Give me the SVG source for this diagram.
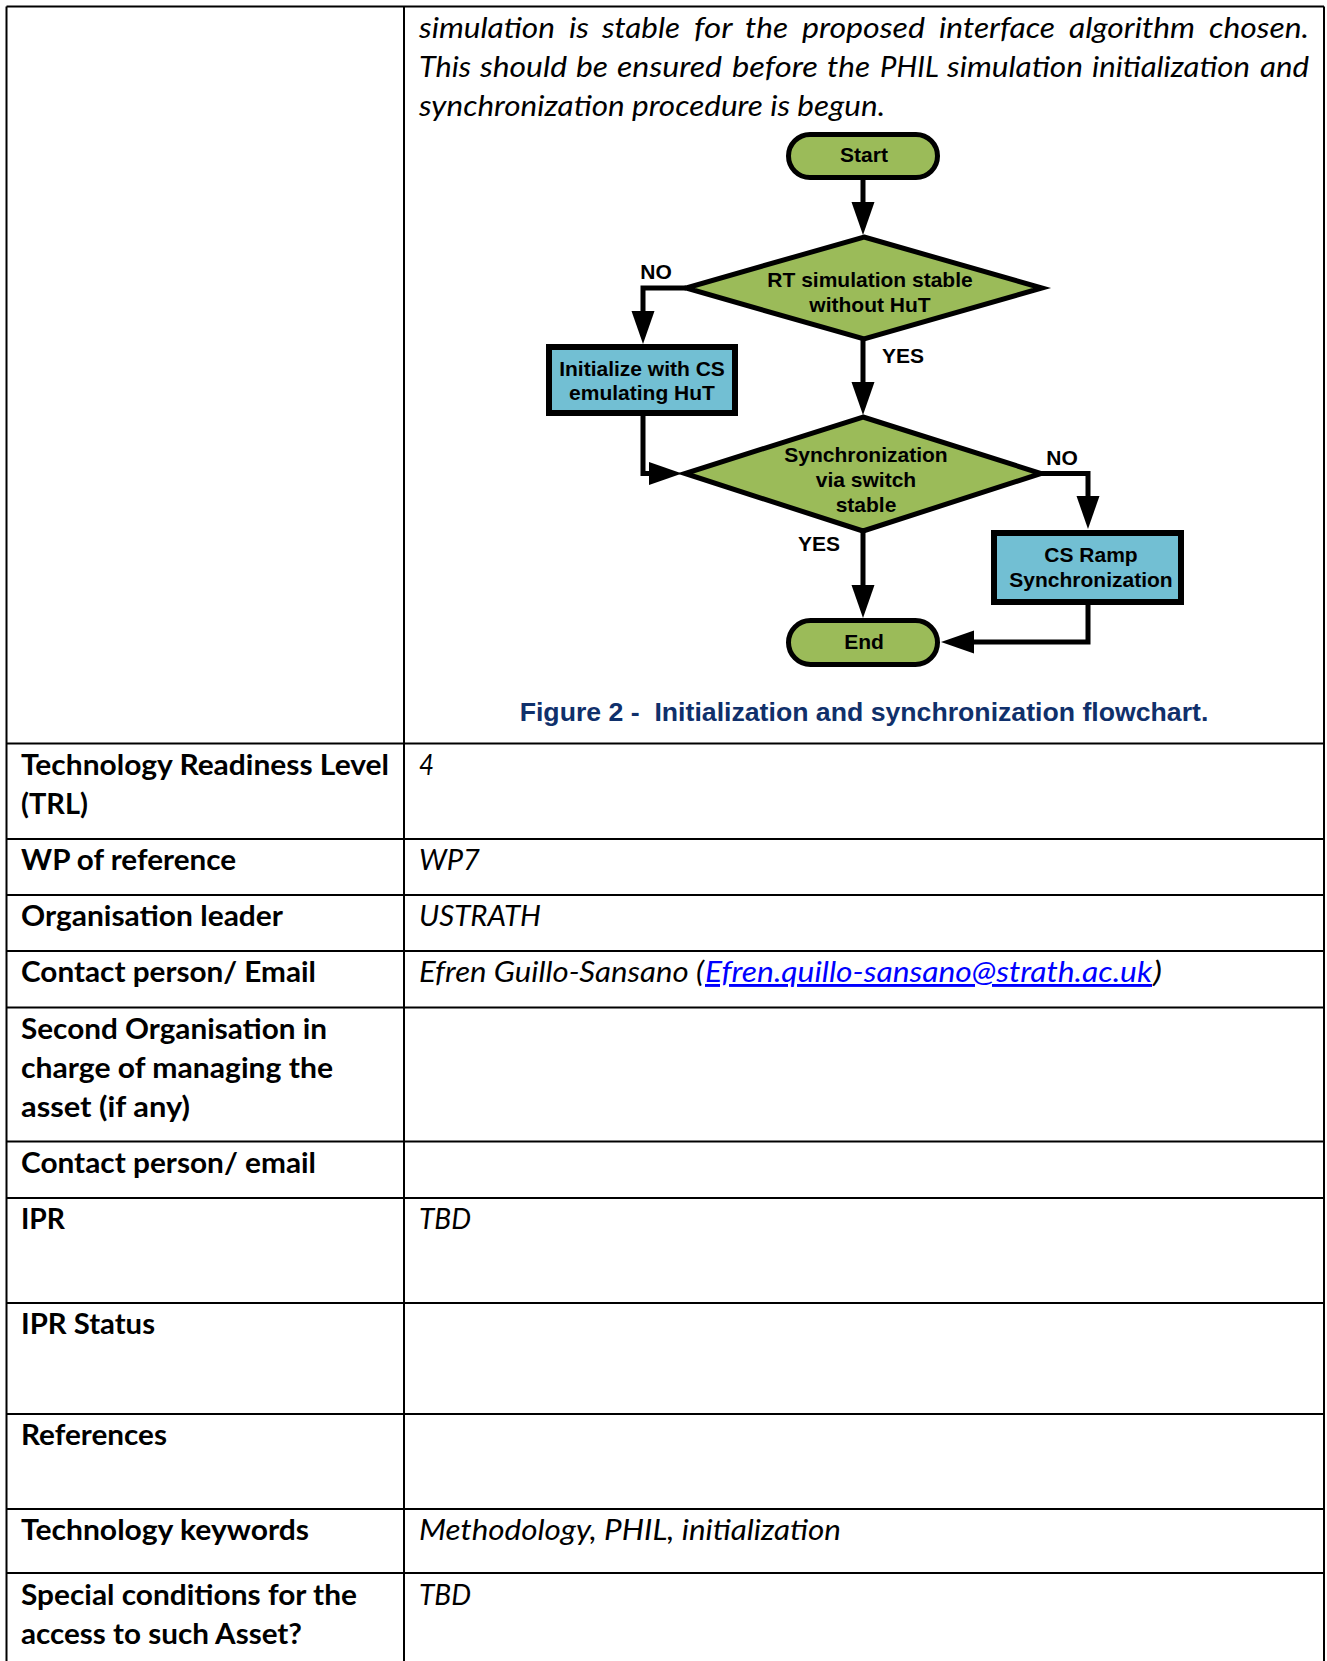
<svg xmlns="http://www.w3.org/2000/svg" width="1327" height="1661" viewBox="0 0 1327 1661">
  <style>
    .grid { stroke: #000; stroke-width: 2; fill: none; }
    .lbl { font-family: Lato, "Liberation Sans", sans-serif; font-weight: bold; font-size: 29px; fill: #000; }
    .val { font-family: Lato, "Liberation Sans", sans-serif; font-style: italic; font-size: 29px; fill: #000; }
    .link { fill: #0000FF; text-decoration: underline; }
    .fc { font-family: "Liberation Sans", Arial, sans-serif; font-weight: bold; font-size: 21px; fill: #000; text-anchor: middle; }
    .term, .dec { fill: #9BBB59; stroke: #000; stroke-width: 5; stroke-linejoin: miter; }
    .proc { fill: #72BFD3; stroke: #000; stroke-width: 6; }
    .conn { fill: none; stroke: #000; stroke-width: 5; stroke-linejoin: miter; marker-end: url(#arrow); }
    .caption { font-family: "Liberation Sans", Arial, sans-serif; font-weight: bold; font-size: 26.67px; fill: #10306B; text-anchor: middle; white-space: pre; }
  </style>
  <defs>
    <marker id="arrow" markerUnits="userSpaceOnUse" viewBox="0 0 34 24" markerWidth="34" markerHeight="24" refX="1" refY="12" orient="auto">
      <path d="M0,0.5 L33,12 L0,23.5 z" fill="#000"/>
    </marker>
  </defs>

  <rect x="0" y="0" width="1327" height="1661" fill="#fff"/>

  <!-- table grid -->
  <g id="table-grid" class="grid">
    <path d="M6.5,6.5 H1324 M6.5,6.5 V1661 M1324,6.5 V1661 M404,6.5 V1661"/>
    <path d="M6.5,743.5 H1324 M6.5,839 H1324 M6.5,895 H1324 M6.5,951 H1324 M6.5,1007.5 H1324 M6.5,1141.5 H1324 M6.5,1198 H1324 M6.5,1303 H1324 M6.5,1414 H1324 M6.5,1509 H1324 M6.5,1573 H1324"/>
  </g>

  <!-- description paragraph (justified lines set word by word) -->
  <g id="description">
    <text class="val" y="37.5" lengthAdjust="spacingAndGlyphs"><tspan x="419" textLength="136" lengthAdjust="spacingAndGlyphs">simulation</tspan> <tspan x="569" textLength="20" lengthAdjust="spacingAndGlyphs">is</tspan> <tspan x="602" textLength="78" lengthAdjust="spacingAndGlyphs">stable</tspan> <tspan x="694" textLength="38" lengthAdjust="spacingAndGlyphs">for</tspan> <tspan x="745" textLength="43" lengthAdjust="spacingAndGlyphs">the</tspan> <tspan x="802" textLength="123" lengthAdjust="spacingAndGlyphs">proposed</tspan> <tspan x="939" textLength="116" lengthAdjust="spacingAndGlyphs">interface</tspan> <tspan x="1069" textLength="126" lengthAdjust="spacingAndGlyphs">algorithm</tspan> <tspan x="1209" textLength="100" lengthAdjust="spacingAndGlyphs">chosen.</tspan></text>
    <text class="val" y="76.5"><tspan x="419" textLength="52" lengthAdjust="spacingAndGlyphs">This</tspan> <tspan x="480" textLength="87" lengthAdjust="spacingAndGlyphs">should</tspan> <tspan x="576" textLength="32" lengthAdjust="spacingAndGlyphs">be</tspan> <tspan x="617" textLength="105" lengthAdjust="spacingAndGlyphs">ensured</tspan> <tspan x="732" textLength="86" lengthAdjust="spacingAndGlyphs">before</tspan> <tspan x="827" textLength="43" lengthAdjust="spacingAndGlyphs">the</tspan> <tspan x="880" textLength="58" lengthAdjust="spacingAndGlyphs">PHIL</tspan> <tspan x="947" textLength="136" lengthAdjust="spacingAndGlyphs">simulation</tspan> <tspan x="1092" textLength="158" lengthAdjust="spacingAndGlyphs">initialization</tspan> <tspan x="1260" textLength="49" lengthAdjust="spacingAndGlyphs">and</tspan></text>
    <text class="val" x="419" y="115.5" textLength="466" lengthAdjust="spacingAndGlyphs">synchronization procedure is begun.</text>
  </g>

  <!-- flowchart connectors -->
  <g id="connectors">
    <path class="conn" d="M863,180 V203"/>
    <path class="conn" d="M686,288 H643 V312"/>
    <path class="conn" d="M863,339 V383"/>
    <path class="conn" d="M643,416 V473.5 H650"/>
    <path class="conn" d="M1041,473.5 H1088 V497"/>
    <path class="conn" d="M863,531 V586"/>
    <path class="conn" d="M1088,604 V642 H973"/>
  </g>

  <!-- flowchart nodes -->
  <g id="node-start">
    <rect class="term" x="788.5" y="134.5" width="149" height="43" rx="21.5"/>
    <text class="fc" x="864" y="162">Start</text>
  </g>
  <g id="node-rt-stable">
    <polygon class="dec" points="864,237 1042,288 864,339 686,288"/>
    <text class="fc" x="870" y="287">RT simulation stable</text>
    <text class="fc" x="870" y="312">without HuT</text>
  </g>
  <g id="node-init-cs">
    <rect class="proc" x="549" y="347" width="186" height="66"/>
    <text class="fc" x="642" y="376">Initialize with CS</text>
    <text class="fc" x="642" y="400">emulating HuT</text>
  </g>
  <g id="node-sync-switch">
    <polygon class="dec" points="863,417 1041,473.5 863,531 685,473.5"/>
    <text class="fc" x="866" y="462">Synchronization</text>
    <text class="fc" x="866" y="487">via switch</text>
    <text class="fc" x="866" y="512">stable</text>
  </g>
  <g id="node-cs-ramp">
    <rect class="proc" x="994" y="533" width="187" height="69"/>
    <text class="fc" x="1091" y="562">CS Ramp</text>
    <text class="fc" x="1091" y="587">Synchronization</text>
  </g>
  <g id="node-end">
    <rect class="term" x="788.5" y="620.5" width="149" height="44" rx="22"/>
    <text class="fc" x="864" y="649">End</text>
  </g>

  <!-- branch labels -->
  <g id="branch-labels">
    <text class="fc" x="656" y="279">NO</text>
    <text class="fc" x="903" y="363">YES</text>
    <text class="fc" x="1062" y="465">NO</text>
    <text class="fc" x="819" y="551">YES</text>
  </g>

  <text class="caption" x="864" y="721">Figure 2 -  Initialization and synchronization flowchart.</text>

  <!-- table rows -->
  <g id="row-trl">
    <text class="lbl" x="21" y="775" textLength="368" lengthAdjust="spacingAndGlyphs">Technology Readiness Level</text>
    <text class="lbl" x="21" y="814" textLength="67" lengthAdjust="spacingAndGlyphs">(TRL)</text>
    <text class="val" x="419" y="775" textLength="15" lengthAdjust="spacingAndGlyphs">4</text>
  </g>
  <g id="row-wp">
    <text class="lbl" x="21" y="870" textLength="215" lengthAdjust="spacingAndGlyphs">WP of reference</text>
    <text class="val" x="419" y="870" textLength="61" lengthAdjust="spacingAndGlyphs">WP7</text>
  </g>
  <g id="row-org">
    <text class="lbl" x="21" y="926" textLength="262" lengthAdjust="spacingAndGlyphs">Organisation leader</text>
    <text class="val" x="419" y="926" textLength="122" lengthAdjust="spacingAndGlyphs">USTRATH</text>
  </g>
  <g id="row-contact">
    <text class="lbl" x="21" y="982" textLength="295" lengthAdjust="spacingAndGlyphs">Contact person/ Email</text>
    <text class="val" y="982"><tspan x="419" textLength="285" lengthAdjust="spacingAndGlyphs">Efren Guillo-Sansano (</tspan><tspan class="link" x="705" textLength="447" lengthAdjust="spacingAndGlyphs">Efren.quillo-sansano@strath.ac.uk</tspan><tspan x="1153" textLength="9" lengthAdjust="spacingAndGlyphs">)</tspan></text>
  </g>
  <g id="row-second-org">
    <text class="lbl" x="21" y="1039" textLength="306" lengthAdjust="spacingAndGlyphs">Second Organisation in</text>
    <text class="lbl" x="21" y="1078" textLength="312" lengthAdjust="spacingAndGlyphs">charge of managing the</text>
    <text class="lbl" x="21" y="1117" textLength="169" lengthAdjust="spacingAndGlyphs">asset (if any)</text>
  </g>
  <g id="row-contact-2">
    <text class="lbl" x="21" y="1173" textLength="295" lengthAdjust="spacingAndGlyphs">Contact person/ email</text>
  </g>
  <g id="row-ipr">
    <text class="lbl" x="21" y="1229" textLength="44" lengthAdjust="spacingAndGlyphs">IPR</text>
    <text class="val" x="419" y="1229" textLength="52" lengthAdjust="spacingAndGlyphs">TBD</text>
  </g>
  <g id="row-ipr-status">
    <text class="lbl" x="21" y="1334" textLength="134" lengthAdjust="spacingAndGlyphs">IPR Status</text>
  </g>
  <g id="row-references">
    <text class="lbl" x="21" y="1445" textLength="146" lengthAdjust="spacingAndGlyphs">References</text>
  </g>
  <g id="row-keywords">
    <text class="lbl" x="21" y="1540" textLength="288" lengthAdjust="spacingAndGlyphs">Technology keywords</text>
    <text class="val" x="419" y="1540" textLength="422" lengthAdjust="spacingAndGlyphs">Methodology, PHIL, initialization</text>
  </g>
  <g id="row-special">
    <text class="lbl" x="21" y="1605" textLength="336" lengthAdjust="spacingAndGlyphs">Special conditions for the</text>
    <text class="lbl" x="21" y="1644" textLength="281" lengthAdjust="spacingAndGlyphs">access to such Asset?</text>
    <text class="val" x="419" y="1605" textLength="52" lengthAdjust="spacingAndGlyphs">TBD</text>
  </g>
</svg>
